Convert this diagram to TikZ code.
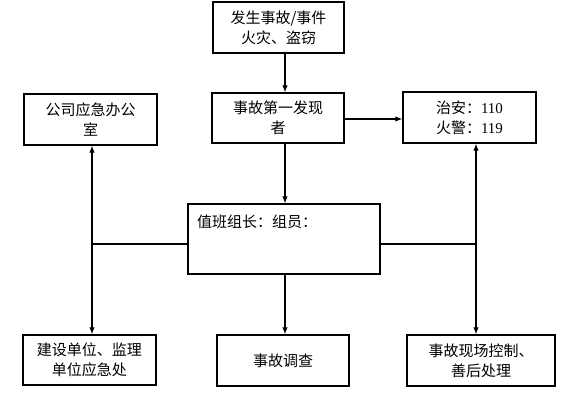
\documentclass[tikz,border=0pt]{standalone}
\usepackage{fontspec}
\setmainfont{Liberation Serif}
\newfontfamily\cjk{Noto Sans CJK SC}
\usetikzlibrary{arrows.meta}
\begin{document}
\begin{tikzpicture}[x=1pt,y=-1pt,
  box/.style={draw,line width=1.3pt,rectangle,inner sep=0pt,align=center,
    font=\fontsize{15}{20}\selectfont\cjk},
  conn/.style={line width=1.1pt},
  arr/.style={conn,-{Latex[length=7pt,width=5.5pt]}},
  darr/.style={conn,{Latex[length=7pt,width=5.5pt]}-{Latex[length=7pt,width=5.5pt]}}]
\useasboundingbox[fill=white] (0,0) rectangle (566,395);
\node[box,minimum width=131pt,minimum height=51pt] (top) at (278.5,27.5) {发生事故/事件\\火灾、盗窃};
\node[box,minimum width=132pt,minimum height=50pt] (mid) at (278,118) {事故第一发现\\者};
\node[box,minimum width=133pt,minimum height=51pt] (left) at (90.5,119.5) {公司应急办公\\室};
\node[box,minimum width=133pt,minimum height=51pt] (right) at (469.5,117.5) {治安：{\rmfamily 110}\\火警：{\rmfamily 119}};
\node[box,minimum width=192pt,minimum height=70pt] (center) at (284,239) {};
\node[anchor=west,inner sep=0pt,font=\fontsize{15}{20}\selectfont\cjk] (ctext) at (197,222) {值班组长：组员：};
\node[box,minimum width=133pt,minimum height=50pt] (bl) at (89.5,360) {建设单位、监理\\单位应急处};
\node[box,minimum width=132pt,minimum height=51pt] (bm) at (283,360.5) {事故调查};
\node[box,minimum width=148pt,minimum height=51pt] (br) at (481,360.5) {事故现场控制、\\善后处理};
\coordinate (vx) at (285,0);
\coordinate (lx) at (92,0);
\coordinate (rx) at (476,0);
\coordinate (hy) at (0,244);
\coordinate (ry) at (0,119);
\coordinate (lj) at (92,244);
\coordinate (rj) at (476,244);
\draw[arr] (top.south -| vx) -- (mid.north -| vx);
\draw[arr] (mid.south -| vx) -- (center.north -| vx);
\draw[arr] (center.south -| vx) -- (bm.north -| vx);
\draw[arr] (mid.east |- ry) -- (right.west |- ry);
\draw[darr] (left.south -| lx) -- (bl.north -| lx);
\draw[darr] (right.south -| rx) -- (br.north -| rx);
\draw[conn] (center.west |- hy) -- (lj);
\draw[conn] (center.east |- hy) -- (rj);
\end{tikzpicture}
\end{document}
